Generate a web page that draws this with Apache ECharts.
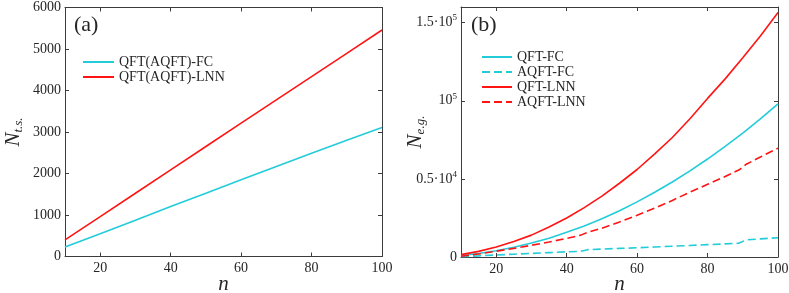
<!DOCTYPE html>
<html><head><meta charset="utf-8">
<script src="https://cdn.jsdelivr.net/npm/echarts@6/dist/echarts.min.js"></script>
<style>html,body{margin:0;padding:0;background:#fff}#c{width:789px;height:293px}</style>
</head><body><div id="c"></div><script>
// ---- panel (a) data ----
const nA = [10, 20, 30, 40, 50, 60, 70, 80, 90, 100];
const tsFC = [226, 550, 875, 1204, 1525, 1847, 2168, 2489, 2800, 3110];
const tsLNN = [402, 960, 1525, 2087, 2650, 3212, 3775, 4334, 4895, 5458];
// ---- panel (b) data ----
const nB = [10, 15, 20, 25, 30, 35, 40, 45, 50, 55, 60, 65, 70, 75, 80, 85, 90, 95, 100];
const qftFC = [1000, 2200, 4000, 6200, 8900, 12000, 15800, 19900, 24500, 29600, 35300, 41400, 48000, 55100, 62700, 70800, 79300, 88400, 98000];
const qftLNN = [1500, 3600, 6400, 9900, 14000, 19200, 25000, 31600, 39000, 47200, 56000, 66000, 76500, 88500, 101500, 114000, 127500, 141500, 156500];
const nAQ = [10, 15, 20, 25, 30, 35, 40, 44, 46, 50, 55, 60, 65, 70, 75, 80, 85, 89, 91, 95, 100];
const aqftFC = [200, 700, 1300, 1800, 2300, 2800, 3300, 3600, 4700, 5100, 5500, 5900, 6400, 6900, 7400, 7900, 8400, 8900, 11000, 11600, 12300];
const aqftLNN = [500, 1900, 3700, 5500, 7500, 9600, 11900, 14000, 15800, 18400, 22400, 26700, 31300, 36200, 41500, 46500, 51500, 55800, 59400, 64000, 69700];
// ---- ticks ----
const xTicks = [20, 40, 60, 80, 100];
const yTicksB = [0, 50000, 100000, 150000];
const yLabelsB = ['{b|0}', '{b|0.5·10}{s|4}', '{b|10}{s|5}', '{b|1.5·10}{s|5}'];

const FONT = "Liberation Serif";
const AX = '#3c3c3c';
const TXT = '#262626';
const CYAN = '#22CCD8';
const RED = '#FF1414';

const zip = (xs, ys) => xs.map((x, i) => [x, ys[i]]);
const nameRich = {
  n: { fontFamily: FONT, fontStyle: 'italic', fontSize: 21, color: TXT, lineHeight: 24 },
  s: { fontFamily: FONT, fontStyle: 'italic', fontSize: 13, color: TXT, lineHeight: 12, verticalAlign: 'bottom' }
};

function xAx(g, pos, labels) {
  const o = {
    gridIndex: g, type: 'value', min: 10, max: 100, position: pos,
    axisLine: { show: true, onZero: false, lineStyle: { color: AX, width: 1 } },
    axisTick: { show: true, inside: true, length: 4, customValues: xTicks, lineStyle: { color: AX } },
    axisLabel: { show: labels, customValues: xTicks, fontFamily: FONT, fontSize: 14, color: TXT, margin: 5,
      formatter: v => String(v) },
    splitLine: { show: false }
  };
  if (labels) {
    o.name = 'n'; o.nameLocation = 'middle'; o.nameGap = 17; o.nameMoveOverlap = false;
    o.nameTextStyle = { fontFamily: FONT, fontStyle: 'italic', fontSize: 21, color: TXT };
  }
  return o;
}
function yAxA(pos, labels) {
  const o = {
    gridIndex: 0, type: 'value', min: 0, max: 6000, interval: 1000, position: pos,
    axisLine: { show: true, onZero: false, lineStyle: { color: AX, width: 1 } },
    axisTick: { show: true, inside: true, length: 4, lineStyle: { color: AX } },
    axisLabel: { show: labels, fontFamily: FONT, fontSize: 14, color: TXT, margin: 4, formatter: v => String(v) },
    splitLine: { show: false }
  };
  if (labels) {
    o.name = '{n|N}{s|t.s.}'; o.nameLocation = 'middle'; o.nameGap = 40; o.nameRotate = 90; o.nameMoveOverlap = false;
    o.nameTextStyle = { rich: nameRich };
  }
  return o;
}
function yAxB(pos, labels) {
  const o = {
    gridIndex: 1, type: 'value', min: 0, max: 160000, position: pos,
    axisLine: { show: true, onZero: false, lineStyle: { color: AX, width: 1 } },
    axisTick: { show: true, inside: true, length: 4, customValues: yTicksB, lineStyle: { color: AX } },
    axisLabel: { show: labels, customValues: yTicksB, margin: 4,
      formatter: v => yLabelsB[yTicksB.indexOf(v)] || '',
      rich: {
        b: { fontFamily: FONT, fontSize: 14, color: TXT, lineHeight: 18 },
        s: { fontFamily: FONT, fontSize: 9, color: TXT, lineHeight: 11, verticalAlign: 'top' } } },
    splitLine: { show: false }
  };
  if (labels) {
    o.name = '{n|N}{s|e.g.}'; o.nameLocation = 'middle'; o.nameGap = 34; o.nameRotate = 90; o.nameMoveOverlap = false;
    o.nameTextStyle = { rich: nameRich };
  }
  return o;
}

const line = (name, xi, yi, data, color, dashed) => ({
  name, type: 'line', xAxisIndex: xi, yAxisIndex: yi, data, symbol: 'none', showSymbol: false,
  lineStyle: { color, width: 1.6, type: dashed ? [8, 4] : 'solid' }, itemStyle: { color },
  emphasis: { disabled: true }
});

const legendCommon = {
  orient: 'vertical', padding: 0, itemHeight: 14, itemGap: 1,
  itemStyle: { opacity: 0 },
  textStyle: { fontFamily: FONT, fontSize: 14, color: TXT }
};

const chart = echarts.init(document.getElementById('c'), null, { renderer: 'canvas' });
chart.setOption({
  animation: false,
  backgroundColor: '#fff',
  grid: [
    { left: 65, top: 7.5, width: 317, height: 249, containLabel: false, outerBoundsMode: 'none' },
    { left: 461, top: 7, width: 317, height: 250, containLabel: false, outerBoundsMode: 'none' }
  ],
  xAxis: [xAx(0, 'bottom', true), xAx(0, 'top', false), xAx(1, 'bottom', true), xAx(1, 'top', false)],
  yAxis: [yAxA('left', true), yAxA('right', false), yAxB('left', true), yAxB('right', false)],
  legend: [
    Object.assign({ data: ['QFT(AQFT)-FC', 'QFT(AQFT)-LNN'], left: 82, top: 55, itemWidth: 31 }, legendCommon),
    Object.assign({ data: ['QFT-FC', 'AQFT-FC', 'QFT-LNN', 'AQFT-LNN'], left: 481, top: 50, itemWidth: 30 }, legendCommon)
  ],
  graphic: [
    { type: 'text', left: 74, top: 14, style: { text: '(a)', font: "22px 'Liberation Serif'", fill: TXT } },
    { type: 'text', left: 471, top: 14, style: { text: '(b)', font: "22px 'Liberation Serif'", fill: TXT } }
  ],
  series: [
    line('QFT(AQFT)-FC', 0, 0, zip(nA, tsFC), CYAN, false),
    line('QFT(AQFT)-LNN', 0, 0, zip(nA, tsLNN), RED, false),
    line('QFT-FC', 2, 2, zip(nB, qftFC), CYAN, false),
    line('AQFT-FC', 2, 2, zip(nAQ, aqftFC), CYAN, true),
    line('QFT-LNN', 2, 2, zip(nB, qftLNN), RED, false),
    line('AQFT-LNN', 2, 2, zip(nAQ, aqftLNN), RED, true)
  ]
});
</script></body></html>
